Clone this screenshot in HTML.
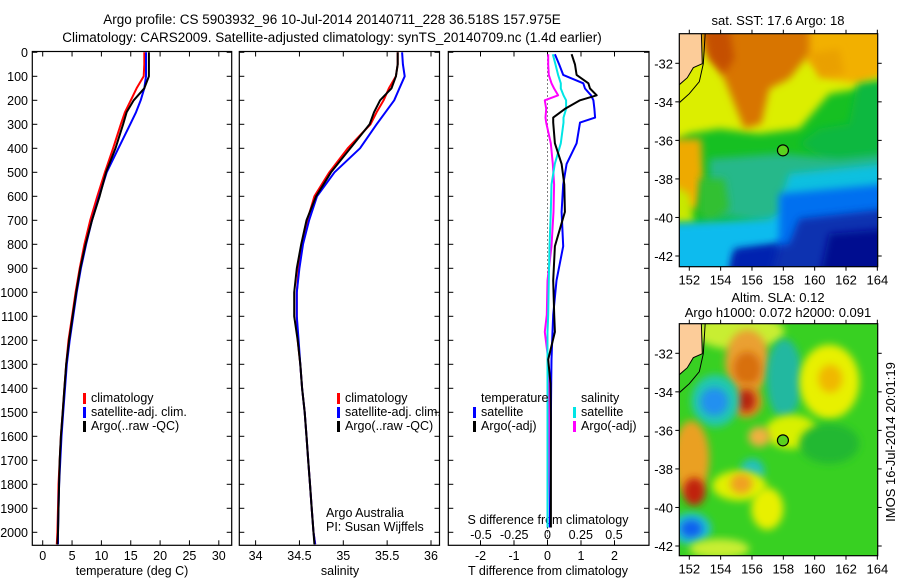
<!DOCTYPE html>
<html><head><meta charset="utf-8">
<style>
html,body{margin:0;padding:0;background:#fff;}
svg{display:block;font-family:"Liberation Sans",sans-serif;}
text{font-size:12.5px;fill:#000;}
</style></head>
<body>
<svg id="fig" width="900" height="580" viewBox="0 0 900 580" xmlns="http://www.w3.org/2000/svg">
<defs>
<filter id="blur4" x="-20%" y="-20%" width="140%" height="140%"><feGaussianBlur stdDeviation="4"/></filter>
<filter id="blur6" x="-30%" y="-30%" width="160%" height="160%"><feGaussianBlur stdDeviation="4"/></filter>
<clipPath id="clipM1"><rect x="679.3" y="33.7" width="198.4" height="233"/></clipPath>
<clipPath id="clipM2"><rect x="679.3" y="323.7" width="198.4" height="232"/></clipPath>
</defs>
<text x="332" y="24" text-anchor="middle" style="font-size:13.5px">Argo profile: CS 5903932_96 10-Jul-2014 20140711_228 36.518S 157.975E</text>
<text x="332" y="42" text-anchor="middle" style="font-size:13.5px">Climatology: CARS2009. Satellite-adjusted climatology: synTS_20140709.nc (1.4d earlier)</text>
<g id="plots"></g>
<g id="maps"></g>
</svg>
<script>
// ---- profile data ----
const depth = [0,50,100,150,200,250,300,400,500,600,700,800,900,1000,1100,1200,1300,1400,1500,1600,1700,1800,1900,2000,2050];
const tClim = [17.3,17.3,17.2,16.0,15.0,14.0,13.3,12.0,10.6,9.3,8.1,7.1,6.3,5.6,5.0,4.4,4.0,3.7,3.4,3.1,2.9,2.7,2.6,2.5,2.4];
const tSat  = [17.6,17.6,17.6,17.3,16.7,15.9,14.9,12.9,10.9,9.6,8.4,7.4,6.5,5.8,5.2,4.6,4.1,3.8,3.5,3.2,3.0,2.8,2.7,2.6,2.6];
const tArgo = [18.1,18.1,18.1,17.3,15.5,14.3,13.7,12.4,10.8,9.7,8.4,7.3,6.4,5.7,5.1,4.5,4.0,3.7,3.4,3.1,2.9,2.8,2.7,2.6,2.5];
const sClim = [35.62,35.62,35.6,35.52,35.46,35.38,35.31,35.05,34.84,34.67,34.59,34.53,34.49,34.47,34.47,34.48,34.51,34.53,34.56,34.58,34.60,34.62,34.64,34.66,34.68];
const sSat  = [35.67,35.68,35.7,35.64,35.58,35.48,35.38,35.19,34.9,34.7,34.61,34.54,34.5,34.47,34.47,34.49,34.51,34.53,34.56,34.58,34.6,34.62,34.64,34.66,34.68];
const sArgo = [35.62,35.62,35.6,35.55,35.42,35.35,35.3,35.08,34.86,34.69,34.58,34.52,34.47,34.44,34.44,34.48,34.51,34.53,34.56,34.58,34.6,34.62,34.64,34.66,34.67];
const dDepth = [8,51,94,129,151,179,200,236,272,293,379,465,551,665,808,951,1094,1165,1280,1380,1522,1700,1980];
const dtSat  = [0.22,0.35,0.47,1.07,1.12,1.3,1.37,1.4,1.42,0.97,0.87,0.57,0.47,0.42,0.47,0.27,0.17,0.15,0.12,0.11,0.10,0.09,0.07];
const dtArgo = [0.72,0.82,0.87,1.22,1.27,1.47,0.97,0.52,0.17,0.17,0.22,0.42,0.5,0.52,0.22,0.17,0.2,0.22,0.02,0.09,0.1,0.1,0.1];
const dsSat  = [0.04,0.06,0.08,0.1,0.1,0.12,0.14,0.14,0.12,0.12,0.1,0.055,0.03,0.025,0.015,0.01,0.005,0,0,0,0,0,0];
const dsArgo = [0.005,0.005,0.01,0.03,0.05,0.08,-0.02,-0.01,-0.015,-0.01,0.025,0.04,0.05,0.045,0.03,0,-0.005,-0.02,0.005,0.01,0.01,0.005,0.0];
const depthTicks = [0,100,200,300,400,500,600,700,800,900,1000,1100,1200,1300,1400,1500,1600,1700,1800,1900,2000];
const tTicks = [0,5,10,15,20,25,30];
const sTicks = [34,34.5,35,35.5,36];
const dTTicks = [-2,-1,0,1,2];
const dSTicks = [-0.5,-0.25,0,0.25,0.5];
const dSTickLabels = ["-0.5","-0.25","0","0.25","0.5"];
const lonTicks = [152,154,156,158,160,162,164];
const latTicks = [-32,-34,-36,-38,-40,-42];

const NS="http://www.w3.org/2000/svg";
function el(tag, attrs, parent){const e=document.createElementNS(NS,tag);for(const k in attrs)e.setAttribute(k,attrs[k]);(parent||document.getElementById('plots')).appendChild(e);return e;}
function txt(s,x,y,anchor,parent,extra){const t=el('text',Object.assign({x:x,y:y,'text-anchor':anchor||'middle'},extra||{}),parent);t.textContent=s;return t;}

const yD = d => 52.3 + d*0.24;
const Y0=51.5, Y1=545.3;
const xT = v => 42.7 + v*5.87;
const xS = v => 255.6 + (v-34)*87.7;
const xDT = v => 547.5 + v*33.5;
const xDS = v => 547.5 + v*133;

function frame(x0,x1,name){
  const r=el('rect',{x:x0,y:Y0,width:x1-x0,height:Y1-Y0,fill:'none',stroke:'#000','stroke-width':1.2});
  
  
  depthTicks.forEach(d=>{
    el('line',{x1:x0,x2:x0+5,y1:yD(d),y2:yD(d),stroke:'#000'});
    el('line',{x1:x1-5,x2:x1,y1:yD(d),y2:yD(d),stroke:'#000'});
  });
}
function series(xs,ds,fx,color,name,w){
  const pts=xs.map((v,i)=>fx(v).toFixed(1)+','+yD(ds[i]).toFixed(1));
  const p=el('polyline',{points:pts.join(' '),fill:'none',stroke:color,'stroke-width':w||2,'stroke-linejoin':'round'});
  
  
}
function legend(x,y,color,label,name){
  const g=el('g',{});
  
  
  el('rect',{x:x,y:y-9,width:3,height:11,fill:color},g);
  txt(label,x+8,y,'start',g);
}

// panel 1 temperature
frame(32.3,231.7,'temperature-panel');
depthTicks.forEach(d=>{const t=txt(String(d),28,yD(d)+4.5,'end');});
tTicks.forEach(v=>{el('line',{x1:xT(v),x2:xT(v),y1:Y1,y2:Y1-5,stroke:'#000'});el('line',{x1:xT(v),x2:xT(v),y1:Y0,y2:Y0+5,stroke:'#000'});txt(String(v),xT(v),560);});
txt('temperature (deg C)',132,575);
series(tClim,depth,xT,'#ff0000','temp-climatology-line');
series(tSat,depth,xT,'#0000ff','temp-satellite-line');
series(tArgo,depth,xT,'#000000','temp-argo-line');
legend(83,402,'#ff0000','climatology','legend-climatology');
legend(83,416,'#0000ff','satellite-adj. clim.','legend-satellite');
legend(83,430,'#000000','Argo(..raw -QC)','legend-argo');

// panel 2 salinity
frame(239.3,439.5,'salinity-panel');
sTicks.forEach(v=>{el('line',{x1:xS(v),x2:xS(v),y1:Y1,y2:Y1-5,stroke:'#000'});el('line',{x1:xS(v),x2:xS(v),y1:Y0,y2:Y0+5,stroke:'#000'});txt(String(v),xS(v),560);});
txt('salinity',340,575);
series(sClim,depth,xS,'#ff0000','sal-climatology-line');
series(sSat,depth,xS,'#0000ff','sal-satellite-line');
series(sArgo,depth,xS,'#000000','sal-argo-line');
legend(337,402,'#ff0000','climatology','legend-climatology-2');
legend(337,416,'#0000ff','satellite-adj. clim.','legend-satellite-2');
legend(337,430,'#000000','Argo(..raw -QC)','legend-argo-2');
txt('Argo Australia',326,517,'start');
txt('PI: Susan Wijffels',326,531,'start');

// panel 3 differences
frame(448.3,649,'difference-panel');
el('line',{x1:xDT(0),x2:xDT(0),y1:Y0,y2:Y1,stroke:'#000','stroke-dasharray':'1,3'});
dTTicks.forEach(v=>{el('line',{x1:xDT(v),x2:xDT(v),y1:Y1,y2:Y1-5,stroke:'#000'});el('line',{x1:xDT(v),x2:xDT(v),y1:Y0,y2:Y0+5,stroke:'#000'});txt(String(v),xDT(v),560);});
dSTicks.forEach((v,i)=>{txt(dSTickLabels[i],xDS(v),539);});
txt('S difference from climatology',548,524);
txt('T difference from climatology',548,575);
series(dsArgo,dDepth,xDS,'#ff00ff','sdiff-argo-line');
series(dsSat,dDepth,xDS,'#00e5e5','sdiff-satellite-line');
series(dtSat,dDepth,xDT,'#0000ff','tdiff-satellite-line');
series(dtArgo,dDepth,xDT,'#000000','tdiff-argo-line');
txt('temperature',481,402,'start');
txt('salinity',581,402,'start');
legend(473,416,'#0000ff','satellite','legend-t-satellite');
legend(473,430,'#000000','Argo(-adj)','legend-t-argo');
legend(573,416,'#00e5e5','satellite','legend-s-satellite');
legend(573,430,'#ff00ff','Argo(-adj)','legend-s-argo');

// ---- maps ----
const M=document.getElementById('maps');
const mx = lon => 689.3 + (lon-152)*15.67;
function drawMap(y0,lat32,clip,shapes,title,name){
  const g=el('g',{'clip-path':'url(#'+clip+')'},M);
  
  
  const X0=679.3;
  shapes.forEach(s=>{
    if(s[0]==='r') el('rect',{x:X0+s[1],y:y0+s[2],width:s[3],height:s[4],fill:s[5],filter:'url(#blur4)'},g);
    else if(s[0]==='e') el('ellipse',{cx:X0+s[1],cy:y0+s[2],rx:s[3],ry:s[4],fill:s[5],filter:'url(#blur6)'},g);
    else if(s[0]==='p') el('polygon',{points:s[1].map((v,i)=>i%2? (y0+v):(X0+v)).join(' ').replace(/(\S+) (\S+)/g,'$1,$2'),fill:s[2],filter:'url(#blur4)'},g);
  });
  el('polygon',{points:[[0,-2],[22,-2],[23,30],[14,34],[8,44],[0,51]].map(p=>(X0+p[0])+','+(y0+p[1])).join(' '),fill:'#fccc99'},g);
  el('polyline',{points:[[22,-2],[23,30],[14,34],[8,44],[0,51]].map(p=>(X0+p[0])+','+(y0+p[1])).join(' '),fill:'none',stroke:'#000'},g);
  el('polyline',{points:[[26,-2],[24,30],[20,48],[10,60],[0,69]].map(p=>(X0+p[0])+','+(y0+p[1])).join(' '),fill:'none',stroke:'#000'},g);
  el('rect',{x:X0,y:y0,width:198.4,height:(name==='sst-map'?233:232),fill:'none',stroke:'#000','stroke-width':1.2},M);
  const ly = lat => lat32 + (-32-lat)*19.27;
  const yb = y0+(name==='sst-map'?233:232);
  lonTicks.forEach(v=>{el('line',{x1:mx(v),x2:mx(v),y1:yb,y2:yb+4,stroke:'#000'},M);el('line',{x1:mx(v),x2:mx(v),y1:y0,y2:y0-4,stroke:'#000'},M);txt(String(v),mx(v),yb+18,'middle',M,{style:'font-size:13px'});});
  latTicks.forEach(v=>{el('line',{x1:X0-4,x2:X0,y1:ly(v),y2:ly(v),stroke:'#000'},M);el('line',{x1:877.7,x2:881.7,y1:ly(v),y2:ly(v),stroke:'#000'},M);txt(String(v),673,ly(v)+5,'end',M,{style:'font-size:13px'});});
  const c=el('circle',{cx:mx(157.975),cy:ly(-36.518),r:5.5,fill:'#5ad21e',stroke:'#000','stroke-width':1.2},M);
  
  
  title.forEach((t,i)=>{txt(t[0],778,t[1],'middle',M,{style:'font-size:13px'});});
}
const sstShapes=[
 ['r',-10,-10,220,260,'#18c020'],
 ['p',[-10,-10,210,-10,210,50,180,55,150,60,120,95,80,100,40,95,10,100,-10,110],'#dcee00'],
 ['p',[120,-10,210,-10,210,40,180,50,150,45,125,25],'#f2b000'],
 ['p',[130,20,160,15,165,40,140,45],'#eaa000'],
 ['p',[22,-10,130,-10,130,20,110,45,90,55,82,90,65,95,55,70,45,45,25,15],'#d87400'],
 ['p',[24,-5,50,-5,55,25,45,40,30,25],'#c55000'],
 ['p',[-10,105,22,105,24,150,18,175,-10,175],'#eeaa00'],
 ['p',[-10,150,10,160,15,190,-10,190],'#c8e800'],
 ['p',[178,50,210,45,210,140,175,135,150,130,120,110,140,95,170,90],'#10b840'],
 ['p',[30,125,100,120,160,125,210,120,210,185,100,190,30,180],'#28b88a'],
 ['p',[20,145,45,145,50,175,30,190,20,180],'#30c030'],
 ['p',[110,140,210,130,210,200,110,200,100,170],'#10c0e0'],
 ['p',[-10,190,90,185,110,175,210,170,210,245,-10,245],'#10bbee'],
 ['p',[100,160,210,150,210,245,90,245,100,200],'#0070f0'],
 ['p',[120,185,210,175,210,245,50,245,55,220,110,210],'#1030b0'],
 ['p',[150,200,210,195,210,245,140,245],'#000c90'],
 ['p',[55,215,100,210,90,245,50,245],'#0020b0']
];
const slaShapes=[
 ['r',-10,-10,220,260,'#38d020'],
 ['e',60,8,45,18,'#c8ee30'],
 ['e',68,38,22,32,'#eaa030'],
 ['e',68,45,14,17,'#d87010'],
 ['e',67,77,16,17,'#e09020'],
 ['e',67,77,9,11,'#b82010'],
 ['e',36,77,24,26,'#20c8b0'],
 ['e',35,78,14,14,'#2090f0'],
 ['e',105,55,18,40,'#20b8a0'],
 ['e',150,58,30,37,'#e8f000'],
 ['e',151,55,12,14,'#f0b800'],
 ['e',112,108,26,17,'#d8f000'],
 ['e',80,113,11,10,'#f0b040'],
 ['e',12,135,18,38,'#eaa020'],
 ['e',15,168,11,14,'#c02010'],
 ['e',73,147,12,12,'#20c0c0'],
 ['e',60,162,27,15,'#e0f000'],
 ['e',62,160,11,10,'#f0a020'],
 ['e',88,185,16,21,'#e8f000'],
 ['e',12,205,20,16,'#20c0d0'],
 ['e',12,205,11,9,'#1060f0'],
 ['e',150,120,30,20,'#22b830'],
 ['e',40,225,30,10,'#c8ee30']
];
drawMap(33.7,63.3,'clipM1',sstShapes,[['sat. SST: 17.6 Argo: 18',25]],'sst-map');
drawMap(323.7,353.3,'clipM2',slaShapes,[['Altim. SLA: 0.12',302],['Argo h1000: 0.072 h2000: 0.091',317]],'sla-map');
const stamp=txt('IMOS 16-Jul-2014 20:01:19',0,0,'middle',M,{transform:'translate(895,442) rotate(-90)',style:'font-size:13px'});


</script>
</body></html>
